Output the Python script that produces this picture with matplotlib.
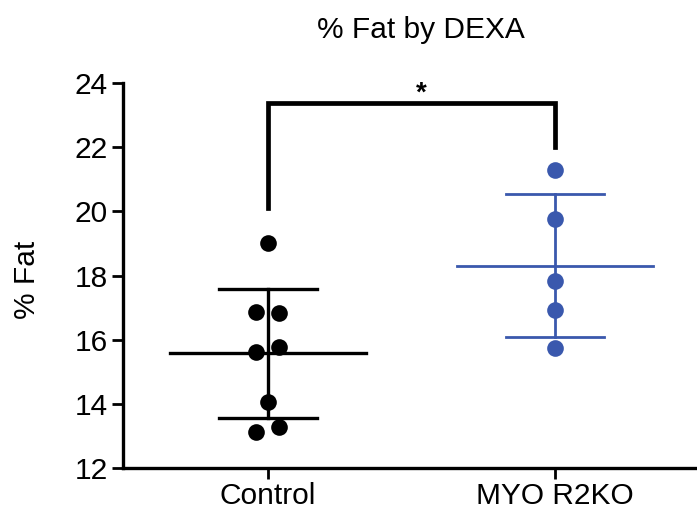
import numpy as np
import matplotlib.pyplot as plt

plt.rcParams['font.family'] = ['Liberation Sans', 'DejaVu Sans']

# % fat per animal, read group by group
groups = ["Control", "MYO R2KO"]
control_fat = [19.0, 16.87, 16.82, 15.62, 15.76, 14.07, 13.13, 13.29]
myo_fat = [21.29, 19.75, 17.84, 16.92, 15.73]
colors = ["black", "#3a58ad"]

y_ticks = [12, 14, 16, 18, 20, 22, 24]


def spread(values, step=0.04, close=0.35):
    # put near-equal values side by side, the rest on the centre line
    offsets = np.zeros(len(values))
    i = 0
    while i < len(values):
        if i + 1 < len(values) and abs(values[i] - values[i + 1]) < close:
            offsets[i] = -step
            offsets[i + 1] = step
            i += 2
        else:
            i += 1
    return offsets


fig = plt.figure(figsize=(6.97, 5.19), dpi=100)
ax = fig.add_axes([0.1765, 0.0983, 0.8235, 0.7417])

for i, (vals, col) in enumerate(zip([control_fat, myo_fat], colors)):
    vals = np.array(vals)
    m = vals.mean()
    sd = vals.std(ddof=1)
    lw = 2.4 if col == "black" else 2.0
    # mean line and SD bar
    ax.plot([i - 0.34, i + 0.34], [m, m], color=col, lw=lw, zorder=2)
    ax.plot([i, i], [m - sd, m + sd], color=col, lw=lw, zorder=2)
    for y in (m - sd, m + sd):
        ax.plot([i - 0.17, i + 0.17], [y, y], color=col, lw=lw, zorder=2)
    ax.plot(i + spread(list(vals)), vals, 'o', color=col, ms=12,
            mec='none', zorder=3)

# significance bracket
ax.plot([0, 0, 1, 1], [20.1, 23.38, 23.38, 22.0], color="black", lw=3.4,
        solid_joinstyle='miter', clip_on=False)
ax.text(0.533, 23.44, "*", ha='center', va='baseline', fontsize=20,
        fontweight='bold', clip_on=False)

ax.set_xlim(-0.505, 1.495)
ax.set_ylim(12, 24)
ax.set_yticks(y_ticks)
ax.set_xticks(range(len(groups)))
ax.set_xticklabels(groups)

for s in ("top", "right"):
    ax.spines[s].set_visible(False)
for s in ("left", "bottom"):
    ax.spines[s].set_linewidth(2.4)
ax.tick_params(axis='both', length=8, width=2.0, labelsize=21.5)
ax.tick_params(axis='y', pad=3)
ax.tick_params(axis='x', pad=2)

fig.text(0.604, 0.927, "% Fat by DEXA", ha='center', va='baseline',
         fontsize=21.5)
fig.text(0.039, 0.4605, "% Fat", ha='center', va='center', rotation=90,
         fontsize=21.5)

fig.savefig("out.png", dpi=100)
